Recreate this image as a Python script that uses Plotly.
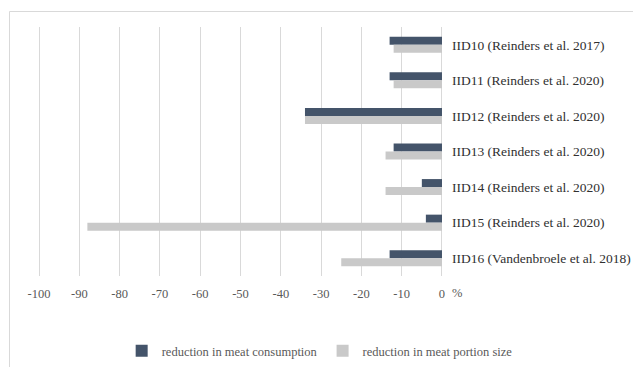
import plotly.graph_objects as go

# Interventions (top to bottom) and the reductions they achieved, in %
studies = [
    "IID10 (Reinders et al. 2017)",
    "IID11 (Reinders et al. 2020)",
    "IID12 (Reinders et al. 2020)",
    "IID13 (Reinders et al. 2020)",
    "IID14 (Reinders et al. 2020)",
    "IID15 (Reinders et al. 2020)",
    "IID16 (Vandenbroele et al. 2018)",
]
meat_consumption = [-13, -13, -34, -12, -5, -4, -13]
portion_size = [-12, -12, -34, -14, -14, -88, -25]
x_ticks = [-100, -90, -80, -70, -60, -50, -40, -30, -20, -10, 0]

W, H = 633, 367
L, R, T, B = 38, 190, 27, 91
plot_w = W - L - R
plot_h = H - T - B


def px_x(px):
    return (px - L) / plot_w


def px_y(py):
    return (H - B - py) / plot_h


SERIF = "Liberation Serif"

fig = go.Figure()
fig.add_trace(go.Bar(
    y=studies, x=meat_consumption, orientation="h",
    name="reduction in meat consumption",
    marker=dict(color="#44546A", line=dict(width=0)),
))
fig.add_trace(go.Bar(
    y=studies, x=portion_size, orientation="h",
    name="reduction in meat portion size",
    marker=dict(color="#C9C9C9", line=dict(width=0)),
))

fig.update_layout(
    width=W, height=H,
    margin=dict(l=L, r=R, t=T, b=B, pad=0, autoexpand=False),
    paper_bgcolor="white", plot_bgcolor="white",
    barmode="group", bargap=0.55, bargroupgap=0,
    font=dict(family=SERIF, size=12, color="#595959"),
    xaxis=dict(
        range=[-100.25, 0.25],
        tickvals=x_ticks,
        ticktext=[str(v) for v in x_ticks],
        showgrid=True, gridcolor="#D9D9D9", gridwidth=1,
        zeroline=True, zerolinecolor="#D9D9D9", zerolinewidth=1,
        showline=False, ticks="",
        ticklabelstandoff=8,
        automargin=False,
        tickfont=dict(family=SERIF, size=12.5, color="#595959"),
        fixedrange=True,
    ),
    yaxis=dict(
        side="right",
        autorange="reversed",
        showgrid=False, zeroline=False, showline=False, ticks="",
        ticklabelstandoff=8,
        automargin=False,
        tickfont=dict(family=SERIF, size=13.5, color="#303030"),
        fixedrange=True,
    ),
    legend=dict(
        orientation="h",
        xref="container", x=0.505, xanchor="center",
        yref="container", y=(H - 351) / H, yanchor="middle",
        font=dict(family=SERIF, size=12.5, color="#595959"),
        itemclick=False, itemdoubleclick=False,
    ),
    showlegend=True,
)

# percent sign to the right of the 0 label
fig.add_annotation(
    x=0, y=px_y(293), xref="x", yref="paper",
    yanchor="middle",
    text="%", showarrow=False, xshift=15,
    font=dict(family=SERIF, size=12.5, color="#595959"),
)

# chart-area border (top and left edges visible)
fig.add_shape(
    type="rect", xref="paper", yref="paper",
    x0=px_x(9.5), x1=px_x(W + 5), y0=px_y(H + 5), y1=px_y(11.5),
    line=dict(color="#D9D9D9", width=1), fillcolor="rgba(0,0,0,0)",
    layer="below",
)

fig.write_html("out.html", config={"displayModeBar": False})
